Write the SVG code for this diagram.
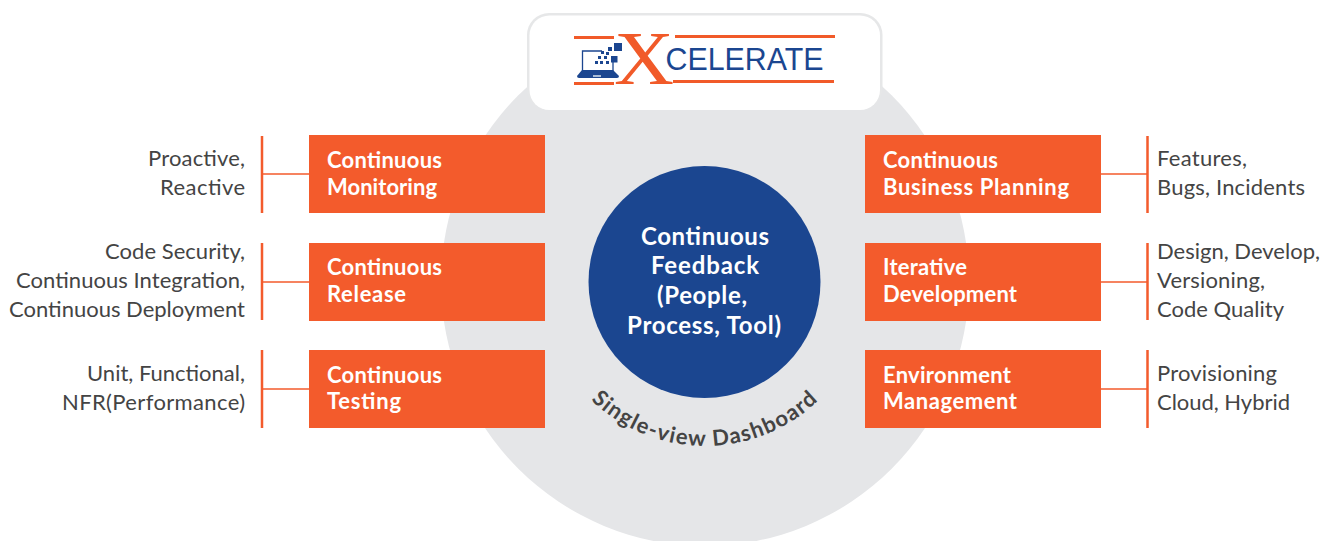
<svg xmlns="http://www.w3.org/2000/svg" width="1335" height="541" viewBox="0 0 1335 541">
<style>
text{font-family:"Lato","Noto Sans",sans-serif}
.box{fill:#f35b2c}
.bt{fill:#fff;font-size:22px;font-weight:700}
.lt{fill:#444;font-size:22px}
.r{text-anchor:end}
.ln{stroke:#f35b2c;stroke-width:1.5;fill:none}
.bar{stroke:#f35b2c;stroke-width:2.5;fill:none}
.or{fill:#f15a29}
.bl{fill:#1b4690}
</style>
<defs><path id="arc" d="M541 282A164 164 0 0 0 869 282"/></defs>
<rect width="1335" height="541" fill="#fff"/>
<circle id="bg" cx="705" cy="282" r="264" fill="#e5e6e8"/>
<g id="logo">
<rect x="527" y="13" width="355.500" height="97" rx="22" fill="#e6e7e8"/>
<rect x="529.500" y="15.500" width="350.500" height="94.500" rx="20" fill="#fff"/>
<rect class="or" x="574" y="36" width="40" height="3"/>
<rect class="or" x="574" y="82" width="40" height="3"/>
<rect class="or" x="675" y="35" width="160" height="3"/>
<rect class="or" x="673" y="80" width="161" height="3"/>
<text x="644" y="84" text-anchor="middle" style="font-family:'Liberation Serif',serif;font-size:77px" fill="#f15a29" textLength="60" lengthAdjust="spacingAndGlyphs">X</text>
<text x="665.500" y="70" style="font-family:'Liberation Sans',sans-serif;font-size:31px" fill="#1b4690" textLength="158" lengthAdjust="spacingAndGlyphs">CELERATE</text>
<path d="M582.500 71V51H602" fill="none" stroke="#1b4690" stroke-width="1.300"/>
<path d="M613 62V71" fill="none" stroke="#1b4690" stroke-width="1.300"/>
<path class="bl" d="M582 70H613L619 76Q619 78 617 78H579Q577 78 577 76Z"/>
<rect x="593" y="75" width="8" height="2" fill="#a9bcd6"/>
<rect class="bl" x="614" y="43" width="8" height="8"/>
<rect class="bl" x="611" y="56" width="6.500" height="6.500"/>
<rect class="bl" x="608" y="47" width="4" height="4"/>
<rect class="bl" x="606" y="52" width="3" height="3"/>
<rect class="bl" x="601" y="51" width="3" height="3"/>
<rect class="bl" x="604" y="56" width="3" height="3"/>
<rect class="bl" x="598" y="56" width="3" height="3"/>
<rect class="bl" x="606" y="61" width="3" height="3"/>
<rect class="bl" x="600" y="61" width="3" height="3"/>
<rect class="bl" x="595" y="61" width="3" height="3"/>
</g>
<g id="connectors">
<path class="bar" d="M262 136V213M262 243V320M262 350V428M1147.500 136V213M1147.500 243V320M1147.500 350V428"/>
<path class="ln" d="M262 174H309M262 282H309M262 389H309M1101 174H1147M1101 282H1147M1101 389H1147"/>
</g>
<g id="hub">
<circle cx="704.500" cy="282" r="116" fill="#1b4690"/>
<g text-anchor="middle" fill="#fff" font-size="24" font-weight="700">
<text x="705" y="244.500" textLength="128">Continuous</text>
<text x="705" y="273.500" textLength="108">Feedback</text>
<text x="702" y="303.500" textLength="90">(People,</text>
<text x="704" y="333.500" textLength="154">Process, Tool)</text>
</g>
</g>
<text id="dash" fill="#444" font-size="22" font-weight="700" letter-spacing="1.300"><textPath href="#arc" startOffset="50%" text-anchor="middle">Single-view Dashboard</textPath></text>
<g id="n1"><rect class="box" x="309" y="135" width="236" height="78"/><text class="bt" x="327" y="167.500" textLength="115">Continuous</text><text class="bt" x="327" y="194.500" textLength="110">Monitoring</text></g>
<g id="n2"><rect class="box" x="309" y="243" width="236" height="78"/><text class="bt" x="327" y="274.500" textLength="115">Continuous</text><text class="bt" x="327" y="301.500" textLength="79">Release</text></g>
<g id="n3"><rect class="box" x="309" y="350" width="236" height="78"/><text class="bt" x="327" y="382.500" textLength="115">Continuous</text><text class="bt" x="327" y="408.500" textLength="74">Testing</text></g>
<g id="n4"><rect class="box" x="865" y="135" width="236" height="78"/><text class="bt" x="883" y="167.500" textLength="115">Continuous</text><text class="bt" x="883" y="194.500" textLength="186">Business Planning</text></g>
<g id="n5"><rect class="box" x="865" y="243" width="236" height="78"/><text class="bt" x="883" y="274.500" textLength="84">Iterative</text><text class="bt" x="883" y="301.500" textLength="134">Development</text></g>
<g id="n6"><rect class="box" x="865" y="350" width="236" height="78"/><text class="bt" x="883" y="382.500" textLength="128">Environment</text><text class="bt" x="883" y="408.500" textLength="134">Management</text></g>
<g id="l1"><text class="lt r" x="245" y="166" textLength="97">Proactive,</text><text class="lt r" x="245" y="195" textLength="85">Reactive</text></g>
<g id="l2"><text class="lt r" x="245" y="259" textLength="140">Code Security,</text><text class="lt r" x="245" y="288" textLength="229">Continuous Integration,</text><text class="lt r" x="245" y="317" textLength="236">Continuous Deployment</text></g>
<g id="l3"><text class="lt r" x="245" y="381" textLength="158">Unit, Functional,</text><text class="lt r" x="245" y="410" textLength="183">NFR(Performance)</text></g>
<g id="l4"><text class="lt" x="1157" y="166" textLength="90">Features,</text><text class="lt" x="1157" y="195" textLength="148">Bugs, Incidents</text></g>
<g id="l5"><text class="lt" x="1157" y="259" textLength="163">Design, Develop,</text><text class="lt" x="1157" y="288" textLength="108">Versioning,</text><text class="lt" x="1157" y="317" textLength="127">Code Quality</text></g>
<g id="l6"><text class="lt" x="1157" y="381" textLength="120">Provisioning</text><text class="lt" x="1157" y="410" textLength="133">Cloud, Hybrid</text></g>
</svg>
